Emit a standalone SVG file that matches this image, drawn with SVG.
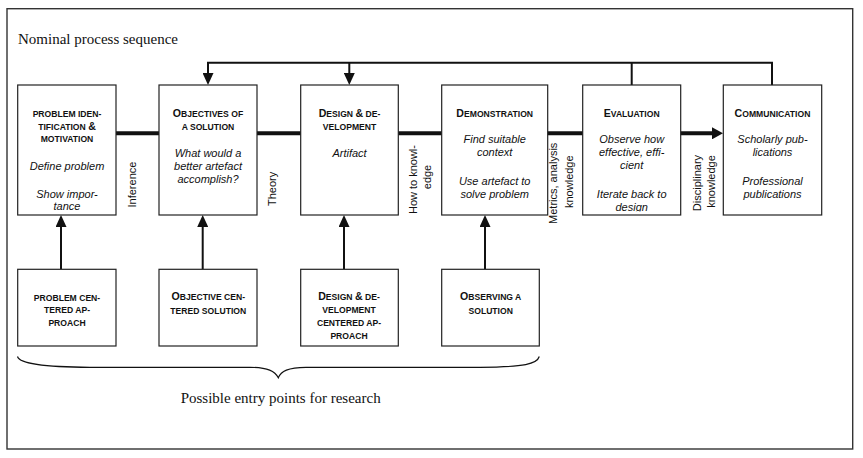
<svg xmlns="http://www.w3.org/2000/svg" width="863" height="458" viewBox="0 0 863 458">
<style>
.box{fill:#fff;stroke:#222;stroke-width:1.2}
.hd{font-family:"Liberation Sans",Arial,sans-serif;font-weight:bold;font-size:8.6px;fill:#111;text-anchor:middle}
.bg{font-size:10.6px}
.it{font-family:"Liberation Sans",Arial,sans-serif;font-style:italic;font-size:11px;fill:#111;text-anchor:middle}
.lb{font-family:"Liberation Sans",Arial,sans-serif;font-size:11px;fill:#111}
.ser{font-family:"Liberation Serif","Times New Roman",serif;font-size:15px;fill:#111}
.ln{fill:none;stroke:#111;stroke-width:2}
</style>
<defs>
<marker id="ah" markerUnits="userSpaceOnUse" viewBox="0 0 12 11" markerWidth="12" markerHeight="11" refX="0" refY="5.5" orient="auto">
<path d="M0,0 L12,5.5 L0,11 z" fill="#111"/>
</marker>
<marker id="ahb" markerUnits="userSpaceOnUse" viewBox="0 0 11 12" markerWidth="11" markerHeight="12" refX="0" refY="6" orient="auto">
<path d="M0,0 L11,6 L0,12 z" fill="#111"/>
</marker>
<clipPath id="c5"><rect x="583" y="86" width="97" height="125.6"/></clipPath>
</defs>
<rect x="7" y="8.7" width="845.7" height="440.3" fill="none" stroke="#333" stroke-width="1.4"/>
<text class="ser" x="18" y="44.3">Nominal process sequence</text>

<g id="connectors">
<line x1="116" y1="133.3" x2="712" y2="133.3" stroke="#111" stroke-width="4" marker-end="url(#ahb)"/>
<path class="ln" d="M772,85 V62.7 H208 V73" marker-end="url(#ah)"/>
<path class="ln" d="M631.7,85 V62.7"/>
<path class="ln" d="M349.3,62.7 V73" marker-end="url(#ah)"/>
<path class="ln" d="M61,269.3 V227" marker-end="url(#ah)"/>
<path class="ln" d="M202.7,269.3 V227" marker-end="url(#ah)"/>
<path class="ln" d="M344,269.3 V227" marker-end="url(#ah)"/>
<path class="ln" d="M485,269.3 V227" marker-end="url(#ah)"/>
<text class="lb" transform="translate(136,207.5) rotate(-90)">Inference</text>
<text class="lb" transform="translate(275.8,206) rotate(-90)">Theory</text>
<text class="lb" text-anchor="middle" transform="translate(417.2,179.5) rotate(-90)" textLength="69" lengthAdjust="spacing">How to knowl-</text>
<text class="lb" text-anchor="middle" transform="translate(431,177) rotate(-90)">edge</text>
<text class="lb" text-anchor="middle" transform="translate(557.3,183.3) rotate(-90)">Metrics, analysis</text>
<text class="lb" text-anchor="middle" transform="translate(572.6,181.7) rotate(-90)">knowledge</text>
<text class="lb" text-anchor="middle" transform="translate(700.5,183) rotate(-90)">Disciplinary</text>
<text class="lb" text-anchor="middle" transform="translate(714.6,181.5) rotate(-90)">knowledge</text>
</g>

<g id="problem-identification">
<rect class="box" x="17.7" y="85" width="98.3" height="130"/>
<text class="hd" x="67" y="116.6">PROBLEM IDEN-</text>
<text class="hd" x="67" y="129.5">TIFICATION <tspan class="bg">&amp;</tspan></text>
<text class="hd" x="67" y="142.4">MOTIVATION</text>
<text class="it" x="67" y="170">Define problem</text>
<text class="it" x="67" y="197.5">Show impor-</text>
<text class="it" x="67" y="210.4">tance</text>
</g>

<g id="objectives">
<rect class="box" x="159" y="85" width="98" height="130"/>
<text class="hd" x="208" y="116.7"><tspan class="bg">O</tspan>BJECTIVES OF</text>
<text class="hd" x="208" y="130">A SOLUTION</text>
<text class="it" x="208" y="157">What would a</text>
<text class="it" x="208" y="169.8">better artefact</text>
<text class="it" x="208" y="182.6">accomplish?</text>
</g>

<g id="design">
<rect class="box" x="300.7" y="85" width="97.6" height="130"/>
<text class="hd" x="349.5" y="116.7"><tspan class="bg">D</tspan>ESIGN <tspan class="bg">&amp;</tspan> DE-</text>
<text class="hd" x="349.5" y="130">VELOPMENT</text>
<text class="it" x="349.5" y="156.5">Artifact</text>
</g>

<g id="demonstration">
<rect class="box" x="441.7" y="85" width="106" height="130"/>
<text class="hd" x="494.7" y="116.7"><tspan class="bg">D</tspan>EMONSTRATION</text>
<text class="it" x="494.7" y="143">Find suitable</text>
<text class="it" x="494.7" y="156">context</text>
<text class="it" x="494.7" y="184.7">Use artefact to</text>
<text class="it" x="494.7" y="197.7">solve problem</text>
</g>

<g id="evaluation">
<rect class="box" x="582.7" y="85" width="98" height="130"/>
<text class="hd" x="631.7" y="116.7"><tspan class="bg">E</tspan>VALUATION</text>
<g clip-path="url(#c5)">
<text class="it" x="631.7" y="143">Observe how</text>
<text class="it" x="631.7" y="156">effective, effi-</text>
<text class="it" x="631.7" y="169">cient</text>
<text class="it" x="631.7" y="197.5">Iterate back to</text>
<text class="it" x="631.7" y="210.8">design</text>
</g>
</g>

<g id="communication">
<rect class="box" x="723.3" y="85" width="98.4" height="130"/>
<text class="hd" x="772.5" y="116.7"><tspan class="bg">C</tspan>OMMUNICATION</text>
<text class="it" x="772.5" y="143">Scholarly pub-</text>
<text class="it" x="772.5" y="156">lications</text>
<text class="it" x="772.5" y="184.7">Professional</text>
<text class="it" x="772.5" y="197.7">publications</text>
</g>

<g id="problem-centered">
<rect class="box" x="17.7" y="269.3" width="98.3" height="76.7"/>
<text class="hd" x="67" y="300.5">PROBLEM CEN-</text>
<text class="hd" x="67" y="313.3">TERED AP-</text>
<text class="hd" x="67" y="326.1">PROACH</text>
</g>

<g id="objective-centered">
<rect class="box" x="159" y="269.3" width="98" height="76.7"/>
<text class="hd" x="208.3" y="300.3"><tspan class="bg">O</tspan>BJECTIVE CEN-</text>
<text class="hd" x="208.3" y="314">TERED SOLUTION</text>
</g>

<g id="design-centered">
<rect class="box" x="300.7" y="269.3" width="97.6" height="76.7"/>
<text class="hd" x="349" y="300.3"><tspan class="bg">D</tspan>ESIGN <tspan class="bg">&amp;</tspan> DE-</text>
<text class="hd" x="349" y="313.3">VELOPMENT</text>
<text class="hd" x="349" y="326.1">CENTERED AP-</text>
<text class="hd" x="349" y="339.3">PROACH</text>
</g>

<g id="observing">
<rect class="box" x="441.7" y="269.3" width="97.6" height="76.7"/>
<text class="hd" x="490.7" y="300.3"><tspan class="bg">O</tspan>BSERVING A</text>
<text class="hd" x="490.7" y="314">SOLUTION</text>
</g>

<path d="M17.5,356.5 C19,363 40,367 90,367.3 L250,367.3 C268,367.5 275,371 278.3,377.8 C281,371 288,367.5 306,367.3 L480,367.3 C525,367 537,364 539.3,356.5" fill="none" stroke="#111" stroke-width="1.2"/>
<text class="ser" x="180.7" y="402.6">Possible entry points for research</text>
</svg>
